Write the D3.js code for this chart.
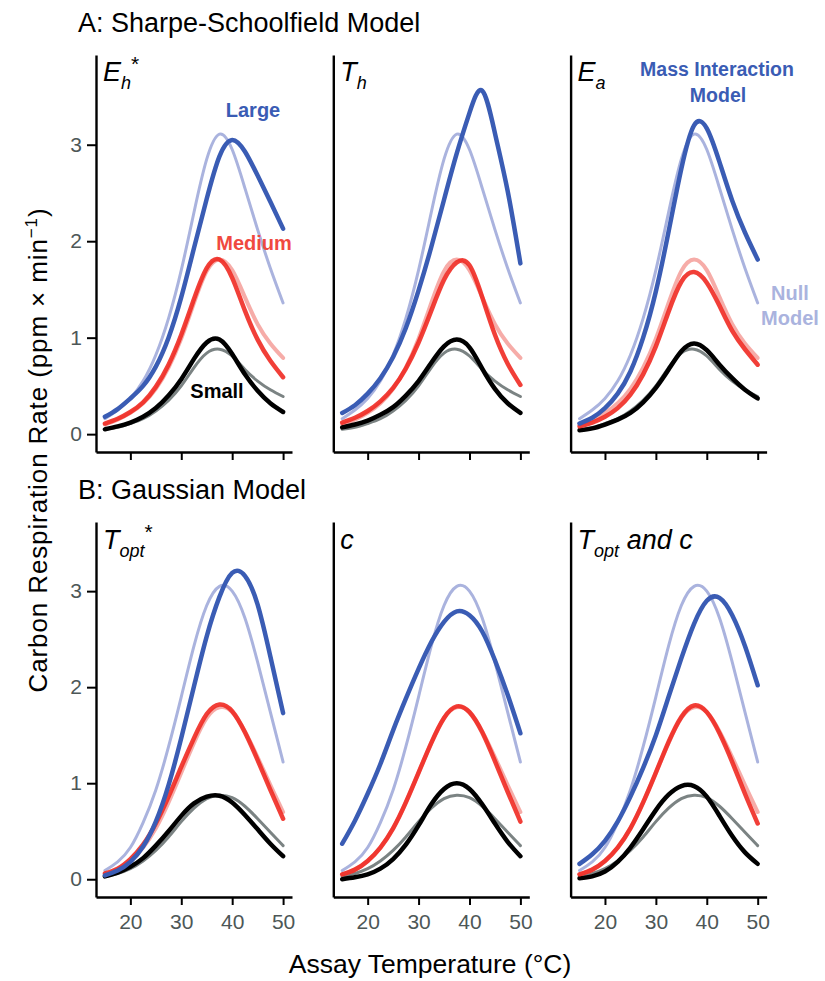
<!DOCTYPE html>
<html>
<head>
<meta charset="utf-8">
<script src="https://cdn.jsdelivr.net/npm/d3@7"></script>
<style>
  body { margin: 0; background: #fff; }
  text { font-family: "Liberation Sans", Arial, Helvetica, sans-serif; }
</style>
</head>
<body>
<svg id="chart" width="825" height="981"></svg>
<script>
// assay temperatures (°C) at which curves were read
const temps = [15, 17.5, 20, 22.5, 25, 27.5, 30, 32.5, 35, 37.5, 40, 42.5, 45, 47.5, 50];

// A: Sharpe-Schoolfield, null model
const nullASmall  = [0.05, 0.07, 0.11, 0.16, 0.24, 0.35, 0.50, 0.69, 0.84, 0.88, 0.81, 0.67, 0.55, 0.46, 0.39];
const nullAMedium = [0.10, 0.15, 0.22, 0.32, 0.47, 0.69, 0.99, 1.36, 1.69, 1.81, 1.70, 1.42, 1.14, 0.94, 0.79];
const nullALarge  = [0.16, 0.25, 0.37, 0.55, 0.82, 1.20, 1.70, 2.30, 2.85, 3.11, 2.95, 2.55, 2.12, 1.72, 1.36];
// A: Eh*
const ehSmall  = [0.05, 0.08, 0.12, 0.18, 0.27, 0.40, 0.57, 0.78, 0.95, 0.98, 0.83, 0.62, 0.45, 0.32, 0.23];
const ehMedium = [0.11, 0.16, 0.23, 0.33, 0.49, 0.72, 1.03, 1.40, 1.72, 1.81, 1.62, 1.28, 0.98, 0.76, 0.59];
const ehLarge  = [0.18, 0.26, 0.37, 0.50, 0.70, 1.00, 1.42, 1.93, 2.44, 2.88, 3.05, 2.93, 2.68, 2.41, 2.13];
// A: Th
const thSmall  = [0.07, 0.10, 0.14, 0.20, 0.28, 0.40, 0.55, 0.74, 0.91, 0.98, 0.90, 0.68, 0.47, 0.32, 0.22];
const thMedium = [0.12, 0.17, 0.24, 0.34, 0.48, 0.68, 0.95, 1.28, 1.60, 1.78, 1.75, 1.42, 1.03, 0.73, 0.51];
const thLarge  = [0.22, 0.30, 0.42, 0.58, 0.80, 1.10, 1.49, 1.94, 2.43, 2.91, 3.33, 3.56, 3.12, 2.52, 1.77];
// A: Ea
const eaSmall  = [0.04, 0.06, 0.10, 0.15, 0.22, 0.33, 0.48, 0.67, 0.86, 0.94, 0.87, 0.72, 0.58, 0.46, 0.37];
const eaMedium = [0.08, 0.12, 0.18, 0.27, 0.41, 0.62, 0.91, 1.27, 1.58, 1.68, 1.57, 1.33, 1.07, 0.88, 0.72];
const eaLarge  = [0.11, 0.17, 0.27, 0.42, 0.65, 1.00, 1.48, 2.10, 2.75, 3.20, 3.17, 2.82, 2.42, 2.09, 1.81];

// B: Gaussian, null model
const nullBSmall  = [0.03, 0.06, 0.11, 0.19, 0.30, 0.44, 0.60, 0.74, 0.84, 0.875, 0.85, 0.76, 0.63, 0.49, 0.35];
const nullBMedium = [0.05, 0.10, 0.19, 0.33, 0.53, 0.80, 1.11, 1.42, 1.68, 1.79, 1.74, 1.54, 1.27, 0.98, 0.70];
const nullBLarge  = [0.09, 0.18, 0.33, 0.59, 0.93, 1.38, 1.90, 2.43, 2.85, 3.05, 3.00, 2.72, 2.26, 1.74, 1.22];
// B: Topt*
const toptSmall  = [0.03, 0.07, 0.13, 0.22, 0.35, 0.50, 0.66, 0.79, 0.86, 0.87, 0.80, 0.67, 0.52, 0.37, 0.24];
const toptMedium = [0.06, 0.11, 0.21, 0.36, 0.58, 0.86, 1.17, 1.47, 1.72, 1.82, 1.75, 1.53, 1.24, 0.93, 0.63];
const toptLarge  = [0.04, 0.09, 0.18, 0.34, 0.60, 0.98, 1.47, 2.01, 2.53, 2.94, 3.19, 3.16, 2.86, 2.32, 1.73];
// B: c
const cSmall  = [0.00, 0.02, 0.05, 0.11, 0.21, 0.36, 0.56, 0.78, 0.94, 1.00, 0.94, 0.78, 0.58, 0.39, 0.24];
const cMedium = [0.05, 0.10, 0.19, 0.33, 0.53, 0.80, 1.11, 1.42, 1.68, 1.80, 1.74, 1.53, 1.23, 0.91, 0.60];
const cLarge  = [0.37, 0.61, 0.89, 1.20, 1.55, 1.88, 2.19, 2.47, 2.68, 2.79, 2.75, 2.58, 2.28, 1.92, 1.52];
// B: Topt and c
const tcSmall  = [0.01, 0.03, 0.08, 0.18, 0.33, 0.52, 0.72, 0.88, 0.97, 0.97, 0.86, 0.66, 0.45, 0.28, 0.16];
const tcMedium = [0.05, 0.10, 0.19, 0.33, 0.53, 0.80, 1.11, 1.43, 1.69, 1.81, 1.74, 1.52, 1.22, 0.89, 0.58];
const tcLarge  = [0.16, 0.26, 0.40, 0.60, 0.86, 1.16, 1.50, 1.90, 2.30, 2.66, 2.90, 2.93, 2.75, 2.43, 2.02];

const xTicks = [20, 30, 40, 50];
const yTicks = [0, 1, 2, 3];

// colours: small, medium, large
const fitColors  = ["#000000", "#ef2a22", "#3a5cb4"];
const nullColors = ["#7b8383", "#f59e99", "#aab3de"];

// panel table
const panels = [
  {row: 0, col: 0, label: [["E", 0], ["h", 1], ["*", 2]], nul: [nullASmall, nullAMedium, nullALarge], fit: [ehSmall, ehMedium, ehLarge]},
  {row: 0, col: 1, label: [["T", 0], ["h", 1]],           nul: [nullASmall, nullAMedium, nullALarge], fit: [thSmall, thMedium, thLarge]},
  {row: 0, col: 2, label: [["E", 0], ["a", 1]],           nul: [nullASmall, nullAMedium, nullALarge], fit: [eaSmall, eaMedium, eaLarge]},
  {row: 1, col: 0, label: [["T", 0], ["opt", 1], ["*", 2]], nul: [nullBSmall, nullBMedium, nullBLarge], fit: [toptSmall, toptMedium, toptLarge]},
  {row: 1, col: 1, label: [["c", 0]],                     nul: [nullBSmall, nullBMedium, nullBLarge], fit: [cSmall, cMedium, cLarge]},
  {row: 1, col: 2, label: [["T", 0], ["opt", 1], [" and c", 0]], nul: [nullBSmall, nullBMedium, nullBLarge], fit: [tcSmall, tcMedium, tcLarge]}
];

// layout
const colLeft = [96, 333.3, 570.6];
const panelW = 196;
const rows = [
  {top: 55, bottom: 452, domain: [-0.185, 3.93]},
  {top: 522, bottom: 897, domain: [-0.185, 3.72]}
];

const svg = d3.select("#chart");

panels.forEach(p => {
  const r = rows[p.row];
  const x = d3.scaleLinear().domain([13.25, 51.75]).range([colLeft[p.col], colLeft[p.col] + panelW]);
  const y = d3.scaleLinear().domain(r.domain).range([r.bottom, r.top]);
  const g = svg.append("g");

  // x axis
  const xAxis = d3.axisBottom(x).tickValues(xTicks).tickSize(8).tickSizeOuter(0).tickPadding(9);
  const gx = g.append("g").attr("transform", `translate(0,${r.bottom})`).call(xAxis);
  gx.select(".domain").attr("stroke", "#000").attr("stroke-width", 2.4);
  gx.selectAll(".tick line").attr("stroke", "#000").attr("stroke-width", 2);
  gx.selectAll(".tick text").attr("font-size", 21).attr("fill", "#4d5757")
    .attr("font-family", '"Liberation Sans", Arial, sans-serif')
    .style("display", p.row === 1 ? null : "none");

  // y axis (ticks only in first column)
  const yAxis = d3.axisLeft(y).tickValues(p.col === 0 ? yTicks : []).tickFormat(d3.format("d"))
    .tickSize(9).tickSizeOuter(0).tickPadding(5);
  const gy = g.append("g").attr("transform", `translate(${colLeft[p.col]},0)`).call(yAxis);
  gy.select(".domain").attr("stroke", "#000").attr("stroke-width", 2.4);
  gy.selectAll(".tick line").attr("stroke", "#000").attr("stroke-width", 2);
  gy.selectAll(".tick text").attr("font-size", 21).attr("fill", "#4d5757")
    .attr("font-family", '"Liberation Sans", Arial, sans-serif');

  const line = d3.line()
    .x((d, i) => x(temps[i]))
    .y(d => y(d))
    .curve(d3.curveNatural);

  // null model curves (thin, pale)
  p.nul.forEach((vals, i) => {
    g.append("path").datum(vals)
      .attr("d", line)
      .attr("fill", "none")
      .attr("stroke", nullColors[i])
      .attr("stroke-width", i === 1 ? 4 : 3)
      .attr("stroke-opacity", i === 1 ? 0.85 : 1)
      .attr("stroke-linecap", "round");
  });
  // mass interaction model curves (thick)
  p.fit.forEach((vals, i) => {
    g.append("path").datum(vals)
      .attr("d", line)
      .attr("fill", "none")
      .attr("stroke", fitColors[i])
      .attr("stroke-width", 4.5)
      .attr("stroke-opacity", i === 1 ? 0.9 : 1)
      .attr("stroke-linecap", "round");
  });

  // panel label
  const lab = g.append("text")
    .attr("x", colLeft[p.col] + 7)
    .attr("y", p.row === 0 ? r.top + 26 : r.top + 27)
    .attr("font-style", "italic")
    .attr("font-size", 27)
    .attr("fill", "#000");
  let shift = 0;
  p.label.forEach(([txt, kind]) => {
    const target = kind === 1 ? 8 : kind === 2 ? -10 : 0;
    lab.append("tspan")
      .attr("dy", target - shift)
      .attr("font-size", kind === 0 ? 27 : kind === 1 ? 18 : 21)
      .attr("font-style", kind === 2 ? "normal" : "italic")
      .text(txt);
    shift = target;
  });
});

// row titles
svg.append("text").attr("x", 78).attr("y", 32).attr("font-size", 27).text("A: Sharpe-Schoolfield Model");
svg.append("text").attr("x", 78).attr("y", 499).attr("font-size", 27).text("B: Gaussian Model");

// size annotations in first panel
svg.append("text").attr("x", 253).attr("y", 117).attr("text-anchor", "middle")
  .attr("font-size", 20).attr("font-weight", "bold").attr("fill", "#3a5cb4").text("Large");
svg.append("text").attr("x", 254).attr("y", 250).attr("text-anchor", "middle")
  .attr("font-size", 20).attr("font-weight", "bold").attr("fill", "#f0493f").text("Medium");
svg.append("text").attr("x", 217).attr("y", 398).attr("text-anchor", "middle")
  .attr("font-size", 20).attr("font-weight", "bold").attr("fill", "#000").text("Small");

// model annotations in third panel
const mi = svg.append("text").attr("text-anchor", "middle").attr("font-size", 19.5)
  .attr("font-weight", "bold").attr("fill", "#3a5cb4");
mi.append("tspan").attr("x", 717).attr("y", 76).text("Mass Interaction");
mi.append("tspan").attr("x", 718).attr("y", 102).text("Model");
const nm = svg.append("text").attr("text-anchor", "middle").attr("font-size", 20)
  .attr("font-weight", "bold").attr("fill", "#aab3de");
nm.append("tspan").attr("x", 790).attr("y", 300).text("Null");
nm.append("tspan").attr("x", 790).attr("y", 325).text("Model");

// axis titles
svg.append("text").attr("x", 430).attr("y", 973).attr("text-anchor", "middle")
  .attr("font-size", 26.5).text("Assay Temperature (°C)");

const yt = svg.append("text")
  .attr("transform", "translate(47,450) rotate(-90)")
  .attr("text-anchor", "middle")
  .attr("font-size", 26);
yt.append("tspan").text("Carbon Respiration Rate (ppm × min");
yt.append("tspan").attr("dy", -10).attr("font-size", 17).text("−1");
yt.append("tspan").attr("dy", 10).text(")");
// stretch letter spacing so the title spans the same length as the original
const ytLen = yt.node().getComputedTextLength();
const ytChars = "Carbon Respiration Rate (ppm × min−1)".length;
yt.attr("letter-spacing", Math.max(0, (485 - ytLen) / ytChars));
</script>
</body>
</html>
